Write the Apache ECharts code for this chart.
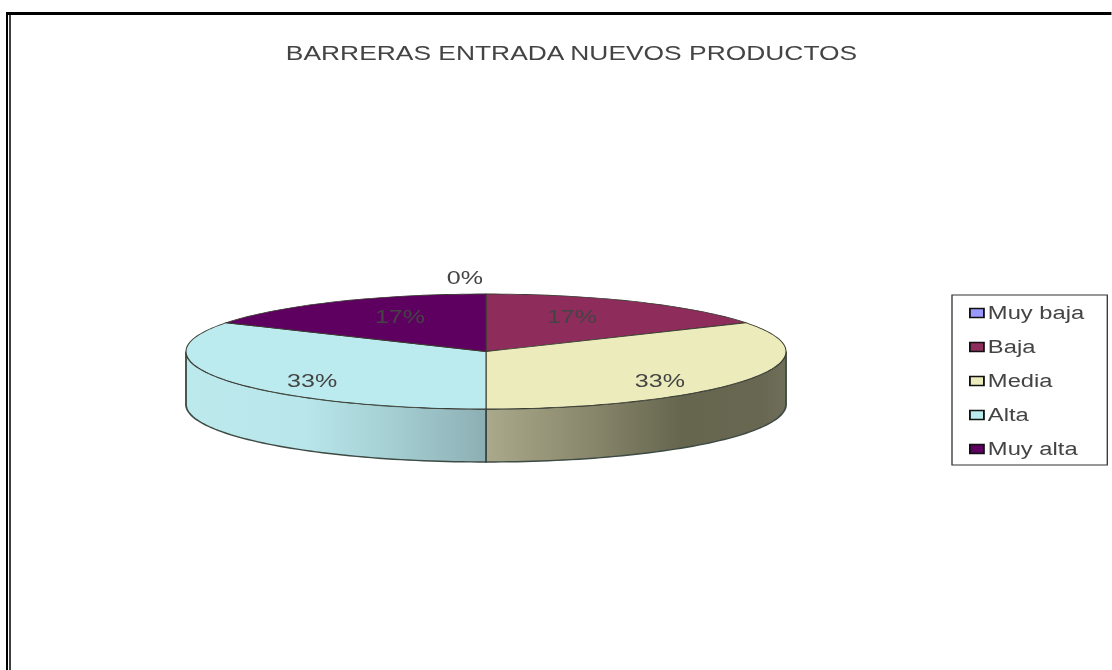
<!DOCTYPE html>
<html>
<head>
<meta charset="utf-8">
<style>
html,body{margin:0;padding:0;background:#fff;overflow:hidden}
#chart{position:absolute;left:0;top:0;height:670px;transform-origin:0 0;filter:blur(0.35px)}
</style>
<script src="https://cdn.jsdelivr.net/npm/echarts@6/dist/echarts.min.js"></script>
</head>
<body>
<div id="chart"></div>
<script>
// Data
const chartTitle = 'BARRERAS ENTRADA NUEVOS PRODUCTOS';
const categories = ['Muy baja', 'Baja', 'Media', 'Alta', 'Muy alta'];
const responses = [0, 1, 2, 2, 1];

// Style
const sliceColors = ['#9999FF', '#8E2C5C', '#EBEBBB', '#BBEBEE', '#5E0060'];
const wallStops = [
  null, null,
  [[0, '#ABA98B'], [0.3, '#8E8C70'], [0.65, '#66664F'], [0.92, '#686852'], [1, '#6E6E5A']],
  [[0, '#BCE9EC'], [0.4, '#B8E6EA'], [0.7, '#A3CDD1'], [1, '#8DAFB4']],
  null
];

// The reference is a picture stretched sideways: the whole chart is drawn narrower and widened.
const STRETCH = 1.32;
const px = x => x / STRETCH;
const W = 1112, H = 670;
const cx = px(486), cy = 351.5, rx = px(300), ry = 57.5, depth = 53;

const el = document.getElementById('chart');
el.style.width = (W / STRETCH) + 'px';
el.style.transform = 'scaleX(' + STRETCH + ')';

const total = responses.reduce((a, b) => a + b, 0);
const rim = (t, dy) => [cx + rx * Math.sin(t), cy - ry * Math.cos(t) + (dy || 0)];
const arc = (a, b, dy) => {
  const out = [], n = Math.max(1, Math.ceil((b - a) / (Math.PI / 120)));
  for (let i = 0; i <= n; i++) out.push(rim(a + (b - a) * i / n, dy));
  return out;
};

function labelAt(t, v) {
  if (v === 0) return [cx - px(21), cy - ry - 16];
  const s = Math.sin(t);
  return [cx + Math.sign(s) * px(240 * Math.abs(s) - 34), cy + 5.6 - 46.9 * Math.cos(t)];
}

function renderSlice(idx) {
  return function (params, api) {
    const v = api.value(0);
    let before = 0;
    for (let i = 0; i < idx; i++) before += responses[i];
    const a = before / total * 2 * Math.PI;
    const b = a + v / total * 2 * Math.PI;
    const children = [];
    if (v > 0) {
      const fa = Math.max(a, Math.PI / 2), fb = Math.min(b, Math.PI * 1.5);
      if (fb > fa && wallStops[idx]) {
        const upper = arc(fa, fb), lower = arc(fa, fb, depth).reverse();
        children.push({
          type: 'polygon',
          shape: { points: upper.concat(lower) },
          style: {
            fill: { type: 'linear', x: 0, y: 0, x2: 1, y2: 0, colorStops: wallStops[idx].map(s => ({ offset: s[0], color: s[1] })) },
            stroke: '#3E4A44', lineWidth: 1.4
          }
        });
      }
      children.push({
        type: 'polygon',
        shape: { points: [[cx, cy]].concat(arc(a, b)) },
        style: { fill: sliceColors[idx], stroke: '#3a3a30', lineWidth: 0.8 }
      });
    }
    const p = labelAt((a + b) / 2, v);
    children.push({
      type: 'text',
      z2: 10,
      style: {
        x: p[0], y: p[1],
        text: Math.round(v / total * 100) + '%',
        fill: '#444',
        font: '19px "Liberation Sans"',
        align: 'center', verticalAlign: 'middle'
      }
    });
    return { type: 'group', children };
  };
}

const chart = echarts.init(el, null, { renderer: 'svg', width: W / STRETCH, height: H });
chart.setOption({
  animation: false,
  backgroundColor: '#fff',
  title: {
    text: chartTitle,
    left: px(571.5),
    top: 43,
    textAlign: 'center',
    padding: 0,
    textStyle: { color: '#444', fontFamily: 'Liberation Sans', fontSize: 20, fontWeight: 'normal' }
  },
  legend: {
    data: categories,
    orient: 'vertical',
    left: px(952),
    top: 295,
    padding: [9, px(23), 7, px(17)],
    backgroundColor: '#fff',
    borderColor: '#333',
    borderWidth: 1,
    borderRadius: 0,
    icon: 'rect',
    itemWidth: px(14),
    itemHeight: 9,
    itemGap: 16,
    selectedMode: false,
    itemStyle: { borderColor: '#111', borderWidth: 1.4 },
    textStyle: { color: '#444', fontFamily: 'Liberation Sans', fontSize: 18, padding: [0, 0, 0, -2] }
  },
  graphic: [
    { type: 'line', silent: true, shape: { x1: 0, y1: 13.5, x2: px(W), y2: 13.5 }, style: { stroke: '#000', lineWidth: 3 } },
    { type: 'line', silent: true, shape: { x1: px(7), y1: 12, x2: px(7), y2: H }, style: { stroke: '#000', lineWidth: px(2) } },
    { type: 'line', silent: true, shape: { x1: px(10), y1: 12, x2: px(10), y2: H }, style: { stroke: '#000', lineWidth: px(1.5) } },
    { type: 'rect', silent: true, shape: { x: 0, y: 0, width: px(6), height: H }, style: { fill: '#fff' } }
  ],
  series: categories.map((name, i) => ({
    type: 'custom',
    name,
    coordinateSystem: 'none',
    silent: true,
    itemStyle: { color: sliceColors[i] },
    renderItem: renderSlice(i),
    data: [{ name, value: [responses[i]] }]
  }))
});
</script>
</body>
</html>
